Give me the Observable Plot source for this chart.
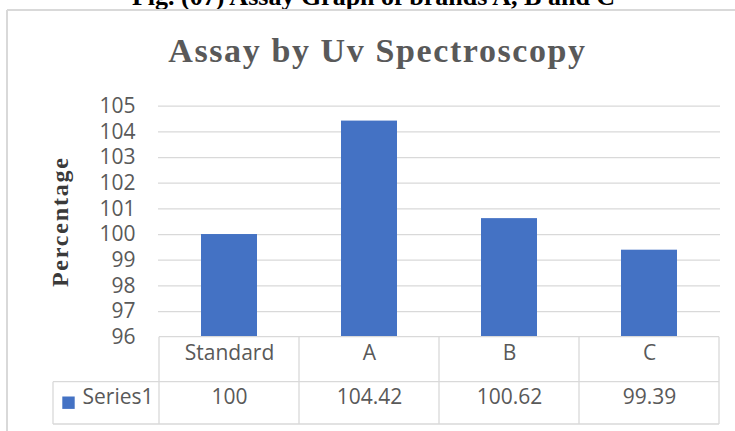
<!DOCTYPE html>
<html><head><meta charset="utf-8">
<script src="https://cdn.jsdelivr.net/npm/d3@7"></script>
<script src="https://cdn.jsdelivr.net/npm/@observablehq/plot@0.6"></script>
<style>
body{margin:0;background:#fff;overflow:hidden}
#chart svg{display:block;overflow:visible}
</style>
</head><body><div id="chart"></div>
<script>
const categories = ["Standard", "A", "B", "C"];
const values = [100, 104.42, 100.62, 99.39];
const valueLabels = ["100", "104.42", "100.62", "99.39"];
const seriesName = "Series1";
const yTicks = [96, 97, 98, 99, 100, 101, 102, 103, 104, 105];
const captionText = "Fig. (07) Assay Graph of brands A, B and C";
const titleText = "Assay by Uv Spectroscopy";
const yLabelText = "Percentage";

const data = categories.map((c, i) => ({category: c, value: values[i], label: valueLabels[i]}));

const W = 735, H = 431;
const mL = 158, mR = 15, mT = 105.7, mB = 94.3;
const gray = "#595959", lineGray = "#d9d9d9", blue = "#4472C4";
const sans = "'Open Sans', sans-serif";
const serif = "'Liberation Serif', 'Times New Roman', serif";

const chart = Plot.plot({
  width: W, height: H,
  marginLeft: mL, marginRight: mR, marginTop: mT, marginBottom: mB,
  style: {fontFamily: sans, background: "#fff"},
  x: {domain: categories, paddingInner: 0.6, paddingOuter: 0.3, axis: null},
  y: {domain: [yTicks[0], yTicks[yTicks.length - 1]], axis: null},
  marks: [
    Plot.ruleY(yTicks.slice(1), {stroke: lineGray, strokeWidth: 1.3}),
    Plot.barY(data, {x: "category", y1: () => yTicks[0], y2: "value", fill: blue}),
    Plot.axisY(yTicks, {tickSize: 0, tickPadding: 23, fontSize: 21, fill: gray, label: null, fontFamily: sans}),
    // table: category row and value row
    Plot.text(data, {x: "category", text: "category", frameAnchor: "bottom", dy: 22.5, fontSize: 21, fill: gray, fontFamily: sans}),
    Plot.text(data, {x: "category", text: "label", frameAnchor: "bottom", dy: 66.5, fontSize: 21, fill: gray, fontFamily: sans}),
    Plot.text([seriesName], {frameAnchor: "bottom-left", dx: -76, dy: 66.5, textAnchor: "start", fontSize: 21, fill: gray, fontFamily: sans}),
    Plot.dot([seriesName], {frameAnchor: "bottom-left", dx: -90, dy: 65.5, symbol: "square", r: 7, fill: blue, stroke: null}),
    // titles
    Plot.text([titleText], {frameAnchor: "top-left", dx: 377 - mL, dy: 62 - mT, lineAnchor: "bottom", textAnchor: "middle", fontSize: 34, fontWeight: "bold", fontFamily: serif, fill: gray, className: "ttl"}),
    Plot.text([captionText], {frameAnchor: "top-left", dx: 373 - mL, dy: 4 - mT, lineAnchor: "bottom", textAnchor: "middle", fontSize: 26, fontWeight: "bold", fontFamily: serif, fill: "#000"}),
    Plot.text([yLabelText], {frameAnchor: "left", dx: -91, rotate: -90, lineAnchor: "bottom", textAnchor: "middle", fontSize: 24, fontWeight: "bold", fontFamily: serif, fill: "#3a3a3a", className: "ylab"})
  ]
});

const svg = d3.select(chart);
svg.selectAll("text").filter(function () { return this.textContent === titleText; }).attr("letter-spacing", 1.6);
svg.selectAll("text").filter(function () { return this.textContent === yLabelText; }).attr("letter-spacing", 1.8);

// Table grid lines, drawn from the chart's own scales
const xs = chart.scale("x"), ys = chart.scale("y");
const step = xs.step, bw = xs.bandwidth;
const bounds = categories.map(c => xs.apply(c) - (step - bw) / 2);
bounds.push(bounds[bounds.length - 1] + step);
const yTop = ys.apply(yTicks[0]);
const row1 = yTop + 45, row2 = yTop + 87.3;
const legendLeft = 53;
const g = svg.append("g").attr("stroke", lineGray).attr("stroke-width", 1.3).attr("fill", "none");
g.append("line").attr("x1", bounds[0]).attr("x2", bounds[bounds.length - 1]).attr("y1", yTop).attr("y2", yTop);
g.append("line").attr("x1", legendLeft).attr("x2", bounds[bounds.length - 1]).attr("y1", row1).attr("y2", row1);
g.append("line").attr("x1", legendLeft).attr("x2", bounds[bounds.length - 1]).attr("y1", row2).attr("y2", row2);
bounds.forEach(b => g.append("line").attr("x1", b).attr("x2", b).attr("y1", yTop).attr("y2", row2));
g.append("line").attr("x1", legendLeft).attr("x2", legendLeft).attr("y1", row1).attr("y2", row2);
// outer chart frame (left and top edges visible)
const f = svg.append("g").attr("stroke", lineGray).attr("stroke-width", 2).attr("fill", "none");
f.append("line").attr("x1", 7).attr("x2", W).attr("y1", 10).attr("y2", 10);
f.append("line").attr("x1", 7).attr("x2", 7).attr("y1", 10).attr("y2", H);

document.getElementById("chart").appendChild(chart);
</script>
</body></html>
